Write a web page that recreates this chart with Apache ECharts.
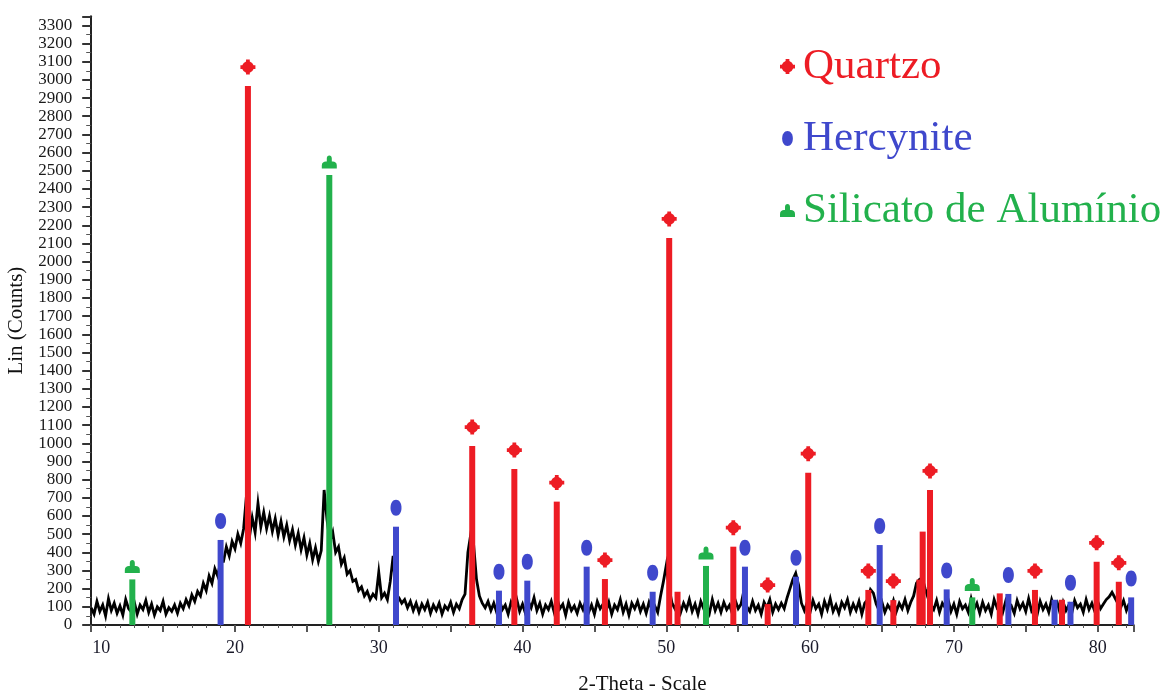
<!DOCTYPE html>
<html>
<head>
<meta charset="utf-8">
<script src="https://cdn.jsdelivr.net/npm/echarts@6/dist/echarts.min.js"></script>
<style>
html,body{margin:0;padding:0;background:#fff;}
#chart{width:1165px;height:691px;}
</style>
</head>
<body>
<div id="chart"></div>
<script>
// ---- Diffractogram (2-theta sampled from 10.0 every 0.2 deg) ----
const traceStart = 10.0;
const traceStep = 0.2;
const traceCounts = [
  95, 60, 130, 75, 110, 50, 145, 80, 120, 65,
  105, 55, 140, 90, 70, 125, 60, 110, 85, 135,
  70, 115, 55, 100, 80, 130, 60, 95, 75, 110,
  65, 120, 90, 140, 105, 165, 130, 185, 160, 230,
  190, 270, 230, 310, 270, 350, 350, 430, 380, 460,
  420, 500, 450, 530, 715, 480, 590, 510, 670, 540,
  620, 530, 600, 515, 585, 495, 570, 485, 550, 465,
  525, 440, 505, 415, 480, 385, 450, 360, 425, 350,
  410, 743, 580, 460, 510, 400, 430, 335, 370, 280,
  300, 240, 250, 190, 210, 160, 185, 140, 170, 150,
  290, 150, 175, 140, 240, 380, 170, 150, 120, 140,
  95, 130, 80, 120, 70, 115, 85, 125, 65, 110,
  80, 120, 60, 105, 85, 125, 70, 115, 90, 140,
  170, 400, 500, 440, 250, 160, 120, 95, 130, 80,
  120, 70, 135, 85, 110, 60, 125, 90, 140, 75,
  115, 65, 130, 95, 150, 80, 120, 60, 110, 85,
  130, 70, 145, 90, 115, 55, 125, 80, 105, 65,
  120, 85, 135, 70, 110, 60, 130, 90, 115, 75,
  125, 60, 110, 85, 140, 70, 115, 55, 120, 90,
  130, 75, 115, 65, 125, 85, 105, 70, 160, 240,
  330, 200, 120, 90, 135, 70, 120, 85, 140, 75,
  115, 60, 130, 90, 110, 65, 140, 80, 120, 70,
  125, 85, 110, 60, 135, 90, 115, 190, 100, 75,
  130, 80, 110, 60, 125, 95, 140, 70, 115, 85,
  120, 90, 150, 200, 250, 285, 220, 120, 80, 125,
  70, 135, 90, 115, 60, 130, 85, 145, 75, 110,
  65, 125, 95, 140, 70, 115, 80, 130, 60, 120,
  140, 195, 175, 115, 80, 125, 70, 110, 85, 135,
  75, 120, 90, 140, 80, 125, 160, 230, 250, 260,
  200, 150, 110, 85, 135, 70, 120, 95, 140, 75,
  115, 60, 130, 90, 110, 70, 145, 85, 120, 65,
  125, 80, 110, 60, 140, 95, 115, 70, 130, 85,
  105, 65, 135, 90, 120, 75, 145, 80, 110, 60,
  130, 85, 115, 70, 140, 90, 120, 60, 125, 80,
  110, 65, 135, 95, 115, 70, 140, 85, 120, 75,
  130, 90, 115, 140, 155, 180, 150, 120, 95, 135,
  80, 120
];

// ---- Identified phases: stick positions (2-theta) and heights (counts) ----
const quartzoAngles = [20.9, 36.5, 39.43, 42.38, 45.73, 50.2, 54.66, 57.05, 59.87, 64.05, 65.79, 68.34, 75.64, 79.93, 81.47];
const quartzoCounts = [2966, 985, 858, 679, 253, 2130, 431, 115, 838, 193, 137, 743, 193, 348, 238];
const quartzoExtraAngles = [50.78, 67.6, 67.83, 73.19, 77.52];
const quartzoExtraCounts = [183, 250, 514, 174, 139];

const hercyniteAngles = [19.0, 31.2, 38.36, 40.33, 44.46, 49.05, 55.47, 59.02, 64.84, 69.5, 73.79, 78.11, 82.33];
const hercyniteCounts = [468, 541, 189, 244, 321, 183, 321, 266, 440, 196, 171, 128, 152];
const hercyniteExtraAngles = [77.0];
const hercyniteExtraCounts = [139];

const silicatoAngles = [12.86, 26.56, 52.76, 71.28];
const silicatoCounts = [251, 2476, 325, 152];

const phaseNames = ['Quartzo', 'Hercynite', 'Silicato de Alumínio'];
const xTickLabels = [10, 20, 30, 40, 50, 60, 70, 80];

// ---- styling ----
const RED = '#ed1c24', BLUE = '#3f48cc', GREEN = '#22b14c';
const FONT = '"Liberation Serif", "Times New Roman", serif';
const redSym = 'path://M6,0 h4 v2 a6.32,6.32 0 0 1 4,4 h2 v4 h-2 a6.32,6.32 0 0 1 -4,4 v2 h-4 v-2 a6.32,6.32 0 0 1 -4,-4 h-2 v-4 h2 a6.32,6.32 0 0 1 4,-4 z';
const blueSym = 'path://M5,0 C8,0 10,3 10,7 C10,11 8,14 5,14 C2,14 0,11 0,7 C0,3 2,0 5,0 Z';
const greenSym = 'path://M0,13 L0,10 C0,7 2,6 4,6 L5,6 L5,3 C5,1 6,0 7.5,0 C9,0 10,1 10,3 L10,6 L11,6 C13,6 15,7 15,10 L15,13 Z';

const zip = (a, b) => a.map((v, i) => [v, b[i]]);
const traceData = traceCounts.map((c, i) => [+(traceStart + i * traceStep).toFixed(2), c]);

function stickSeries(name, data, color) {
  return {
    type: 'custom', name: name, data: data, z: 5,
    encode: { x: 0, y: 1 },
    renderItem: function (params, api) {
      const x = api.value(0), y = api.value(1);
      const top = api.coord([x, y]);
      const bot = api.coord([x, 0]);
      return { type: 'rect', shape: { x: top[0] - 3, y: top[1], width: 6, height: bot[1] - top[1] }, style: { fill: color } };
    }
  };
}
function markerSeries(name, data, color, symbol, size, offset) {
  return {
    type: 'scatter', name: name, data: data, z: 6,
    symbol: symbol, symbolSize: size, symbolOffset: [0, offset],
    itemStyle: { color: color, opacity: 1 }, emphasis: { disabled: true }
  };
}

const chart = echarts.init(document.getElementById('chart'));
chart.setOption({
  animation: false,
  backgroundColor: '#fff',
  grid: { left: 91.2, right: 31.4, top: 16.3, bottom: 66, outerBoundsMode: 'none', containLabel: false },
  legend: {
    orient: 'vertical', left: 775, top: 40, itemGap: 29,
    itemWidth: 15, itemHeight: 15, selectedMode: false,
    textStyle: { fontFamily: FONT, fontSize: 43, lineHeight: 43, padding: [0, 0, 0, 3] },
    data: [
      { name: phaseNames[0], icon: redSym, itemStyle: { color: RED }, textStyle: { color: RED } },
      { name: phaseNames[1], icon: blueSym, itemStyle: { color: BLUE }, textStyle: { color: BLUE } },
      { name: phaseNames[2], icon: greenSym, itemStyle: { color: GREEN }, textStyle: { color: GREEN } }
    ]
  },
  xAxis: {
    type: 'value', min: 10, max: 82.5, interval: 5,
    name: '2-Theta - Scale', nameLocation: 'middle', nameGap: 49,
    nameTextStyle: { fontFamily: FONT, fontSize: 21, color: '#111', padding: [0, 0, 0, 60] },
    axisLine: { show: true, onZero: false, lineStyle: { color: '#222', width: 2 } },
    axisTick: { show: true, length: 7, lineStyle: { color: '#555', width: 2 } },
    minorTick: { show: true, splitNumber: 5, length: 3, lineStyle: { color: '#555' } },
    splitLine: { show: false },
    axisLabel: {
      margin: 14, fontFamily: FONT, fontSize: 18, color: '#1a1a2a',
      formatter: function (v) {
        if (xTickLabels.indexOf(v) < 0) return '';
        return v === 10 ? '{first|10}' : String(v);
      },
      rich: { first: { padding: [0, 0, 0, 20], fontFamily: FONT, fontSize: 18, color: '#1a1a2a' } }
    }
  },
  yAxis: {
    type: 'value', min: 0, max: 3350, interval: 100,
    name: 'Lin (Counts)', nameLocation: 'middle', nameGap: 52,
    nameTextStyle: { fontFamily: FONT, fontSize: 21, color: '#111' },
    axisLine: { show: true, lineStyle: { color: '#222', width: 2 } },
    axisTick: { show: true, length: 9, lineStyle: { color: '#333', width: 2 } },
    minorTick: { show: true, splitNumber: 2, length: 5, lineStyle: { color: '#555' } },
    splitLine: { show: false },
    axisLabel: {
      margin: 19, fontFamily: FONT, fontSize: 17, color: '#1a1a1a', showMaxLabel: false,
      formatter: function (v) { return v % 100 === 0 ? String(v) : ''; }
    }
  },
  series: [
    {
      type: 'line', name: 'trace', data: traceData, showSymbol: false, symbol: 'none',
      sampling: null, z: 2, lineStyle: { color: '#000', width: 2.8, join: 'miter' }, emphasis: { disabled: true }
    },
    stickSeries(phaseNames[0], zip(quartzoAngles, quartzoCounts).concat(zip(quartzoExtraAngles, quartzoExtraCounts)), RED),
    stickSeries(phaseNames[1], zip(hercyniteAngles, hercyniteCounts).concat(zip(hercyniteExtraAngles, hercyniteExtraCounts)), BLUE),
    stickSeries(phaseNames[2], zip(silicatoAngles, silicatoCounts), GREEN),
    markerSeries(phaseNames[0], zip(quartzoAngles, quartzoCounts), RED, redSym, 15, -19),
    markerSeries(phaseNames[1], zip(hercyniteAngles, hercyniteCounts), BLUE, blueSym, [11, 16], -19),
    markerSeries(phaseNames[2], zip(silicatoAngles, silicatoCounts), GREEN, greenSym, [15, 13], -13)
  ]
});
</script>
</body>
</html>
